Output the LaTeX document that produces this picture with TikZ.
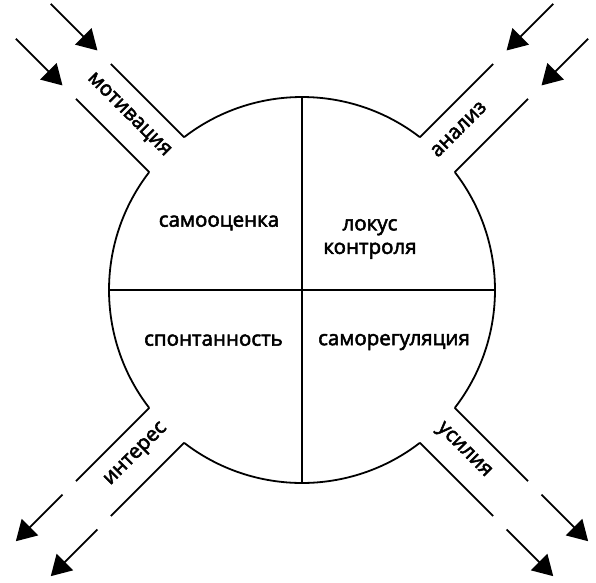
\documentclass[tikz,border=0pt]{standalone}
\usepackage{fontspec}
\setmainfont{Open Sans}[FakeBold=2.6]
\usetikzlibrary{arrows.meta}
\begin{document}
\begin{tikzpicture}[x=1pt,y=1pt,
  line/.style={line width=1.8pt, line cap=butt},
  arr/.style={line width=1.8pt, -{Triangle[length=20pt,width=23pt]}},
  lbl/.style={font=\fontsize{20.5}{23.5}\selectfont, inner sep=0pt, align=center}]
\useasboundingbox (-302,-292) rectangle (294,290);
\def\R{193}
\def\h{24.7}
\def\s{191.4}
\def\ga{7.35}
% circle arcs between channels
\foreach \a in {45,135,225,315}{
  \draw[line] (\a+\ga:\R) arc[start angle=\a+\ga, end angle=\a+90-\ga, radius=\R];
}
% cross
\coordinate (top) at (0,\R);
\coordinate (bot) at (0,-\R);
\coordinate (lft) at (-\R,0);
\coordinate (rgt) at (\R,0);
\draw[line] (top) -- (bot);
\draw[line] (lft) -- (rgt);
% channels
\foreach \a in {45,135,225,315}{
  \begin{scope}[rotate=\a]
    \coordinate (c\a a) at (\s,\h);
    \coordinate (d\a a) at (295,\h);
    \coordinate (c\a b) at (\s,-\h);
    \coordinate (d\a b) at (295,-\h);
    \coordinate (p\a a) at (314,\h);
    \coordinate (q\a a) at (380,\h);
    \coordinate (p\a b) at (314,-\h);
    \coordinate (q\a b) at (380,-\h);
    \draw[line] (c\a a) -- (d\a a);
    \draw[line] (c\a b) -- (d\a b);
  \end{scope}
}
\draw[arr] (q45a) -- (p45a);
\draw[arr] (q45b) -- (p45b);
\draw[arr] (q135a) -- (p135a);
\draw[arr] (q135b) -- (p135b);
\draw[arr] (p225a) -- (q225a);
\draw[arr] (p225b) -- (q225b);
\draw[arr] (p315a) -- (q315a);
\draw[arr] (p315b) -- (q315b);
% channel labels
\node[lbl, rotate=-45, anchor=mid east] (mot) at (135:191) {мотивация};
\node[lbl, rotate=45, anchor=mid west] (ana) at (45:189) {анализ};
\node[lbl, rotate=45, anchor=mid east] (int) at (225:193) {интерес};
\node[lbl, rotate=-45, anchor=mid west] (usi) at (315:193) {усилия};
% quadrant labels
\node[lbl, anchor=mid] (sam) at (-83,66) {самооценка};
\node[lbl] (lok) at (68,51) {локус\\контроля};
\node[lbl, anchor=mid] (spo) at (-88.5,-53) {спонтанность};
\node[lbl, anchor=mid] (reg) at (92,-52.5) {саморегуляция};
\end{tikzpicture}
\end{document}
